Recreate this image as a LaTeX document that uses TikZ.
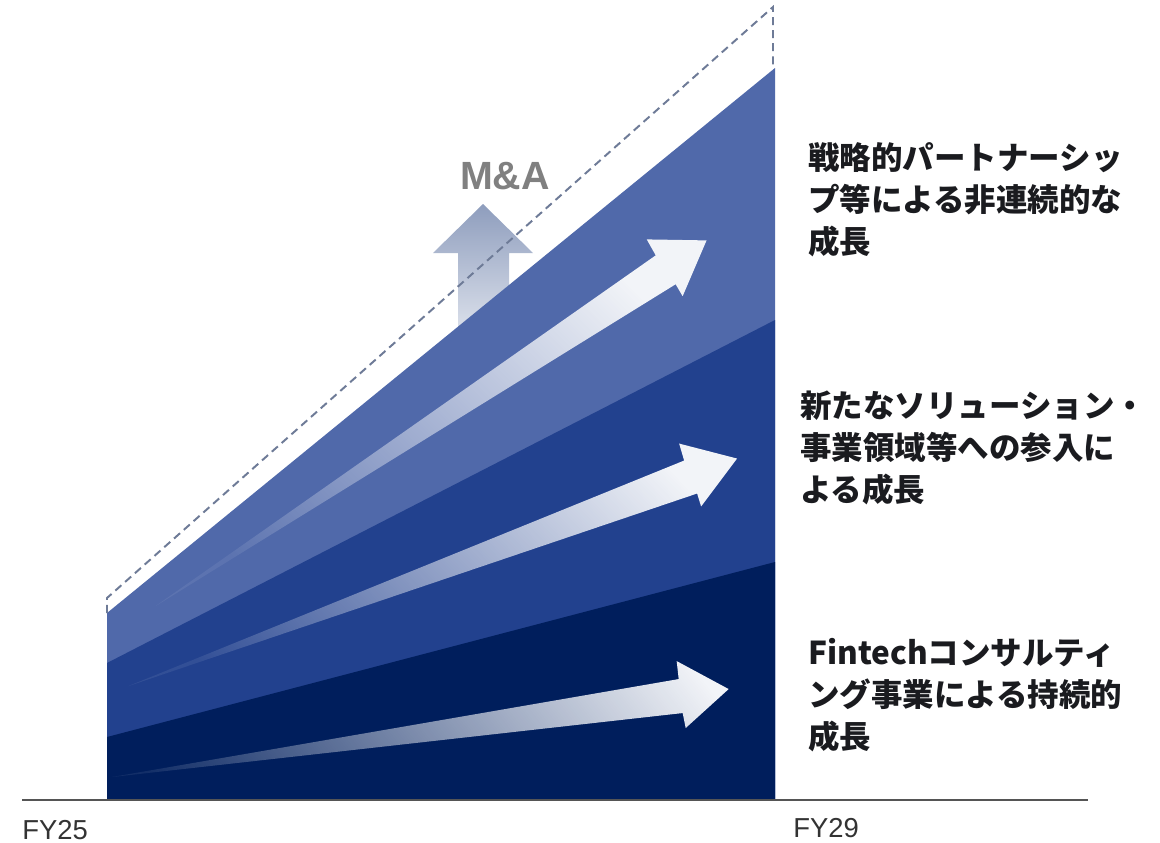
\documentclass[tikz,border=0pt]{standalone}
\usepackage{fontspec}
\setmainfont{Liberation Sans}
\newfontfamily\jpfont{Noto Sans CJK JP}
\newfontfamily\mafont{Liberation Sans}
\usetikzlibrary{fadings}
\tikzfading[name=fadeR, left color=transparent!92, right color=transparent!0]
\definecolor{lightB}{HTML}{5069AA}
\definecolor{midB}{HTML}{22418E}
\definecolor{darkB}{HTML}{001E5C}
\definecolor{dashC}{HTML}{6E7B97}
\definecolor{arrowW}{HTML}{F2F4F8}
\definecolor{maTop}{HTML}{8E9DBD}
\definecolor{maBot}{HTML}{E4E8F0}
\definecolor{maText}{HTML}{808080}
\definecolor{txtC}{HTML}{1A1B1F}
\definecolor{axisC}{HTML}{555555}
\definecolor{fyC}{HTML}{333333}
\begin{document}
\begin{tikzpicture}[x=0.025cm,y=-0.025cm,
  jptext/.style={font=\jpfont\bfseries\fontsize{22.4pt}{29.9pt}\selectfont, text=txtC, anchor=base west, inner sep=0pt},
  fylabel/.style={font=\fontsize{19.5pt}{22pt}\selectfont, text=fyC, anchor=base west, inner sep=0pt},
  dashline/.style={draw=dashC, line width=1.4pt, dash pattern=on 5.7pt off 3.6pt},
  growarrow/.style={fill=arrowW, path fading=fadeR}
]
\useasboundingbox (0,0) rectangle (1160,843);

% M&A arrow (behind the regions)
\shade[top color=maTop, bottom color=maBot]
  (483,204) -- (533,253) -- (509,253) -- (509,345) -- (458,345) -- (458,253) -- (433,253) -- cycle;
\node[font=\mafont\bfseries\fontsize{28pt}{30pt}\selectfont, text=maText, inner sep=0pt] (ma) at (505,176) {M\&A};

% regions
\fill[lightB] (107,800) -- (107,613) -- (775,68) -- (775,800) -- cycle;
\fill[midB] (107,800) -- (107,663) -- (775,320) -- (775,800) -- cycle;
\fill[darkB] (107,800) -- (107,737) -- (775,562) -- (775,800) -- cycle;

% dashed outline
\draw[dashline] (107,613) -- (107,598) -- (773,7) -- (773,68);

% growth arrows
\fill[growarrow, fading angle=33.7]
  (155,605) -- (657,253) -- (648,237) -- (708,238) -- (684,294) -- (677,282) -- cycle;
\fill[growarrow, fading angle=20.6]
  (128,686) -- (685,460) -- (680,443) -- (738,458) -- (702,506) -- (698,493) -- cycle;
\fill[growarrow, fading angle=8.1]
  (112,777) -- (679,679) -- (677,661) -- (729,689) -- (686,728) -- (683,713) -- cycle;

% axis
\coordinate (axL) at (22,800);
\coordinate (axR) at (1088,800);
\draw[axisC, line width=1.1pt] (axL) -- (axR);
\node[fylabel] (fy25) at (22,839) {FY25};
\node[fylabel] (fy29) at (793,837) {FY29};

% labels
\node[jptext] (a1) at (808,169) {戦略的パートナーシッ};
\node[jptext] (a2) at (808,211) {プ等による非連続的な};
\node[jptext] (a3) at (808,253) {成長};
\node[jptext] (b1) at (800,417) {新たなソリューション・};
\node[jptext] (b2) at (800,459) {事業領域等への参入に};
\node[jptext] (b3) at (800,501) {よる成長};
\node[jptext] (c1) at (808,664) {Fintechコンサルティ};
\node[jptext] (c2) at (808,706) {ング事業による持続的};
\node[jptext] (c3) at (808,748) {成長};
\end{tikzpicture}
\end{document}
